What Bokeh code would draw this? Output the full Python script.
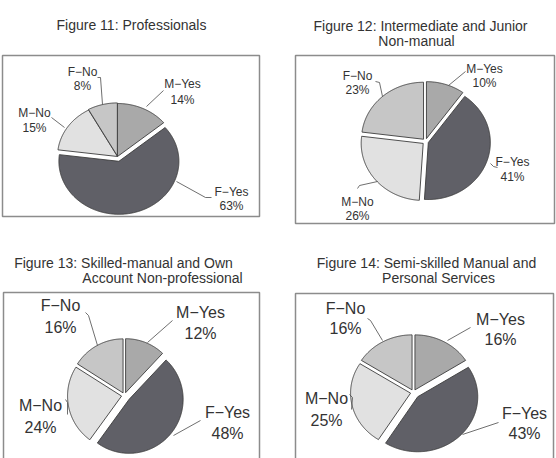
import numpy as np
from bokeh.plotting import figure
from bokeh.models import Range1d
from bokeh.core.properties import value
from bokeh.embed import file_html
from bokeh.resources import INLINE

# ---- data -------------------------------------------------------------
categories = ["M-Yes", "F-Yes", "M-No", "F-No"]
fig11_pct = [14, 63, 15, 8]
fig12_pct = [10, 41, 26, 23]
fig13_pct = [12, 48, 24, 16]
fig14_pct = [16, 43, 25, 16]

titles = [
    ["Figure 11: Professionals"],
    ["Figure 12: Intermediate and Junior", "Non-manual"],
    ["Figure 13: Skilled-manual and Own", "Account Non-professional"],
    ["Figure 14: Semi-skilled Manual and", "Personal Services"],
]

slice_colors = ["#a9a9a9", "#606067", "#e1e1e1", "#c6c6c6"]

# ---- layout (page pixels, y grows downward) ---------------------------
W, H = 556, 458

panels = [
    dict(values=fig11_pct, box=(2, 259, 55, 216), c=(117, 156), r=(60, 53),
         explode=[0, 5, 0, 0.6], fs=12,
         title_pos=[(131, 24)],
         labels=[(182, 83, 99), (231, 191, 205), (34, 112, 127), (82, 71, 85)],
         leaders=[[(163, 90), (146, 106)],
                  [(211, 197), (205, 197), (176, 181)],
                  [(51, 117), (64, 127)],
                  [(97, 77), (100, 77), (102, 104)]]),
    dict(values=fig12_pct, box=(295, 554, 55, 223), c=(425, 141), r=(62, 57),
         explode=[3, 3, 3, 3], fs=12,
         title_pos=[(420, 25), (416, 40)],
         labels=[(484, 68, 82), (512, 161, 176), (357, 201, 215), (357, 75, 89)],
         leaders=[[(465, 71), (448, 85)],
                  [(497, 167), (493, 166), (490, 163)],
                  [(357, 188), (359, 185), (377, 181)],
                  [(375, 81), (379, 82), (382, 96)]]),
    dict(values=fig13_pct, box=(3, 259, 292, 470), c=(124, 395), r=(54, 54),
         explode=[3, 6, 3, 3], fs=16,
         title_pos=[(123, 262), (162, 277)],
         labels=[(200, 312, 333), (227, 412, 433), (40, 405, 427), (60, 305, 327)],
         leaders=[[(172, 320), (147, 342)],
                  [(200, 420), (173, 435)],
                  [(65, 399), (67, 402), (67, 414)],
                  [(85, 312), (88, 315), (97, 345)]]),
    dict(values=fig14_pct, box=(295, 553, 293, 470), c=(413, 392), r=(60, 55),
         explode=[3, 6, 3, 3], fs=16,
         title_pos=[(426, 262), (438, 277)],
         labels=[(500, 319, 339), (524, 413, 433), (326, 398, 420), (345, 308, 328)],
         leaders=[[(470, 327), (447, 340)],
                  [(498, 422), (462, 434)],
                  [(349, 394), (352, 397), (351, 409)],
                  [(367, 318), (370, 320), (382, 340)]]),
]

FONT = "Liberation Sans"

p = figure(width=W, height=H, output_backend="svg", toolbar_location=None,
           x_range=Range1d(0, W), y_range=Range1d(H, 0),
           min_border=0, outline_line_color=None)
p.axis.visible = False
p.grid.visible = False
p.background_fill_color = "white"
p.border_fill_color = "white"


def slice_outline(cx, cy, rx, ry, a0, a1, shift):
    """Polygon of one pie slice; angles in degrees clockwise from 12 o'clock."""
    mid = np.radians((a0 + a1) / 2)
    ox, oy = cx + shift * np.sin(mid), cy - shift * np.cos(mid)
    t = np.radians(np.linspace(a0, a1, max(8, int(abs(a1 - a0) * 1.5))))
    xs = np.concatenate([[ox], ox + rx * np.sin(t), [ox]])
    ys = np.concatenate([[oy], oy - ry * np.cos(t), [oy]])
    return list(xs), list(ys)


for pan in panels:
    l, r, t, b = pan["box"]
    p.quad(left=[l], right=[r], top=[t], bottom=[b], fill_color="white",
           line_color="#8c8c8c", line_width=1.5)

    vals = np.array(pan["values"], dtype=float)
    edges = np.concatenate([[0], np.cumsum(vals)]) / vals.sum() * 360.0
    xs, ys = [], []
    for i in range(len(vals)):
        sx, sy = slice_outline(pan["c"][0], pan["c"][1], pan["r"][0], pan["r"][1],
                               edges[i], edges[i + 1], pan["explode"][i])
        xs.append(sx)
        ys.append(sy)
    p.patches(xs=xs, ys=ys, fill_color=slice_colors, line_color="#3c3c3c",
              line_width=0.9, line_join="round")

    for pts in pan["leaders"]:
        p.line([q[0] for q in pts], [q[1] for q in pts], line_color="#4a4a4a",
               line_width=0.8)

    names = [c.replace("-", "\u2212") for c in categories]
    pcts = [f"{v}%" for v in pan["values"]]
    lx = [q[0] for q in pan["labels"]]
    p.text(x=lx, y=[q[1] for q in pan["labels"]], text=names,
           text_font=value(FONT), text_font_size=f"{pan['fs']}px",
           text_color="#333333", text_align="center", text_baseline="middle")
    p.text(x=lx, y=[q[2] for q in pan["labels"]], text=pcts,
           text_font=value(FONT), text_font_size=f"{pan['fs']}px",
           text_color="#333333", text_align="center", text_baseline="middle")

for lines, pan in zip(titles, panels):
    p.text(x=[q[0] for q in pan["title_pos"]], y=[q[1] for q in pan["title_pos"]],
           text=lines, text_font=value(FONT), text_font_size="14px",
           text_color="#333333", text_align="center", text_baseline="middle")

open("out.html", "w").write(file_html(p, INLINE))
